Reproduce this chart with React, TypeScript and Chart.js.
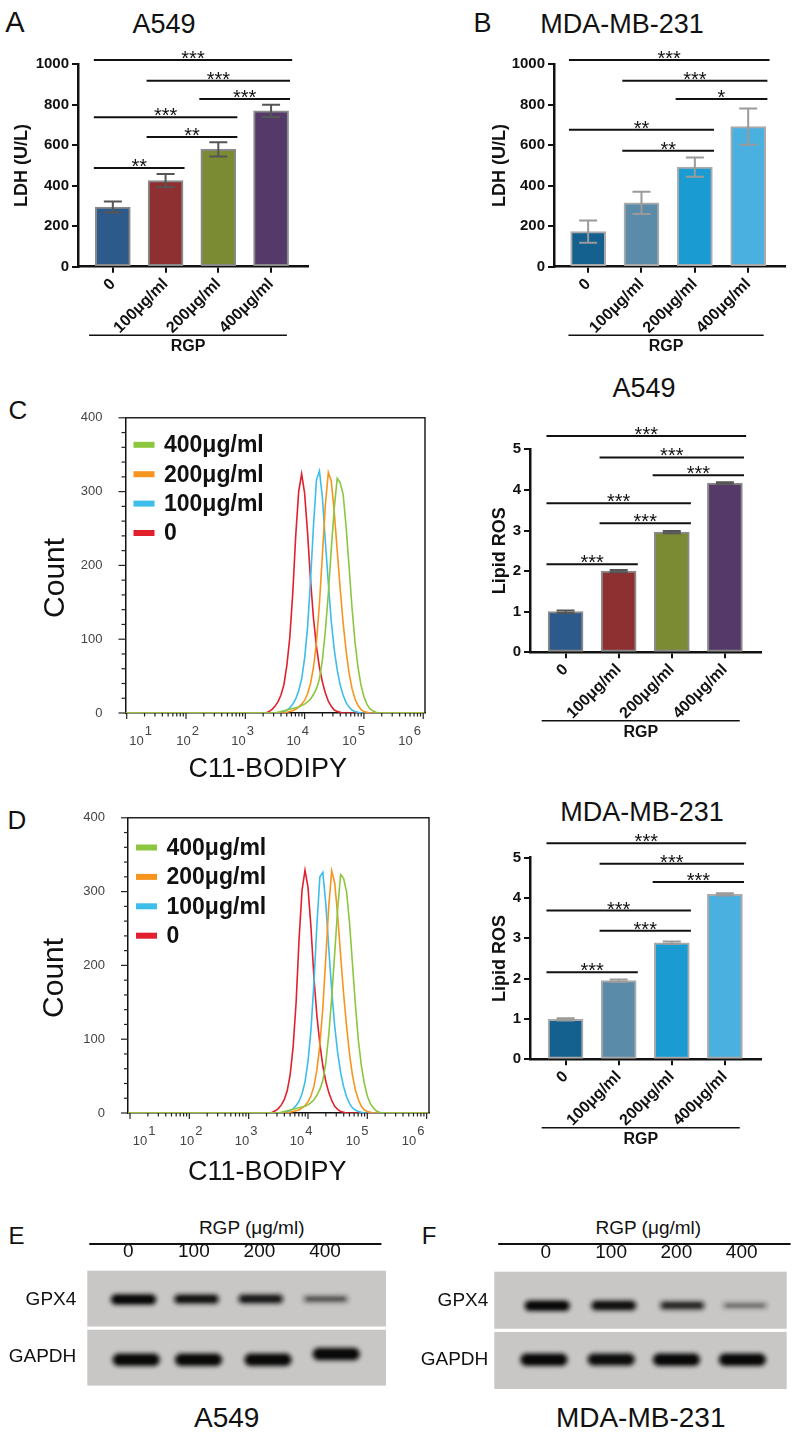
import React, { useEffect, useRef } from 'react';
import { Chart, registerables } from 'chart.js';

Chart.register(...registerables);

const FONT = "'Liberation Sans', Arial, Helvetica, sans-serif";
Chart.defaults.font.family = FONT;
Chart.defaults.color = '#111';

// ---------- categories / labels ----------
const DOSES = ['0', '100\u03BCg/ml', '200\u03BCg/ml', '400\u03BCg/ml'];
const HIST_LEGEND = ['400\u03BCg/ml', '200\u03BCg/ml', '100\u03BCg/ml', '0'];
const HIST_COLORS = ['#8cc63f', '#f7941d', '#3dbde9', '#e11f2d'];
const HIST_DECADES = [1, 2, 3, 4, 5, 6];
const HIST_LABEL_AT = [1.236, 2.029, 2.956, 3.884, 4.828, 5.772];
const LANES = ['0', '100', '200', '400'];
const BLOT_ROWS = ['GPX4', 'GAPDH'];

// ---------- LDH (U/L) ----------
const LDH_A549 = [295, 425, 580, 770];
const LDH_A549_SD = [27, 33, 35, 30];
const LDH_MDA = [173, 315, 492, 692];
const LDH_MDA_SD = [55, 55, 47, 90];

// ---------- Lipid ROS ----------
const ROS_A549 = [1.0, 2.0, 2.96, 4.17];
const ROS_A549_SD = [0.03, 0.03, 0.03, 0.02];
const ROS_MDA = [0.99, 1.95, 2.89, 4.09];
const ROS_MDA_SD = [0.03, 0.03, 0.03, 0.03];

// significance brackets: [from, to, level, label]
const SIG_LDH_A549 = [[0, 3, 1021, '***'], [1, 3, 919, '***'], [2, 3, 829, '***'], [0, 2, 738, '***'], [1, 2, 641, '**'], [0, 1, 488, '**']];
const SIG_LDH_MDA = [[0, 3, 1021, '***'], [1, 3, 919, '***'], [2, 3, 829, '*'], [0, 2, 677, '**'], [1, 2, 573, '**']];
const SIG_ROS_A549 = [[0, 3, 5.33, '***'], [1, 3, 4.8, '***'], [2, 3, 4.36, '***'], [0, 2, 3.67, '***'], [1, 2, 3.18, '***'], [0, 1, 2.17, '***']];
const SIG_ROS_MDA = [[0, 3, 5.36, '***'], [1, 3, 4.85, '***'], [2, 3, 4.4, '***'], [0, 2, 3.69, '***'], [1, 2, 3.19, '***'], [0, 1, 2.16, '***']];

const COLORS_A549 = ['#2c5a8b', '#8e2f31', '#7a8b33', '#553a69'];
const COLORS_MDA = ['#14608f', '#5a8ca9', '#1a9cd3', '#4ab0df'];

// ---------- flow histograms (log10 C11-BODIPY bins, counts) ----------
const HIST_BINS = [3.30, 3.35, 3.40, 3.45, 3.50, 3.55, 3.60, 3.65, 3.70, 3.75, 3.80, 3.85, 3.90, 3.95, 4.00, 4.05, 4.10, 4.15, 4.20, 4.25, 4.30, 4.35, 4.40, 4.45, 4.50, 4.55, 4.60, 4.65, 4.70, 4.75, 4.80, 4.85, 4.90, 4.95, 5.00, 5.05, 5.10, 5.15, 5.20, 5.25, 5.30];
const C_400 = [0, 0, 0, 0, 0, 1, 2, 3, 4, 5, 6, 7, 8, 10, 12, 15, 19, 25, 33, 46, 72, 112, 162, 222, 278, 318, 312, 296, 252, 198, 142, 96, 62, 38, 22, 12, 6, 3, 1, 0, 0];
const C_200 = [0, 0, 0, 0, 0, 0, 0, 0, 1, 2, 3, 5, 8, 12, 17, 26, 40, 62, 96, 148, 214, 282, 326, 314, 272, 220, 168, 122, 84, 54, 33, 19, 10, 5, 2, 1, 0, 0, 0, 0, 0];
const C_100 = [0, 0, 0, 0, 0, 0, 1, 2, 4, 7, 12, 19, 30, 46, 74, 116, 180, 254, 316, 328, 292, 232, 176, 124, 86, 58, 38, 24, 14, 8, 4, 2, 1, 0, 0, 0, 0, 0, 0, 0, 0];
const C_0 = [0, 0, 2, 5, 9, 15, 24, 38, 64, 102, 162, 240, 300, 324, 298, 244, 180, 128, 90, 62, 42, 27, 16, 9, 4, 2, 1, 0, 0, 0, 0, 0, 0, 0, 0, 0, 0, 0, 0, 0, 0];
const D_400 = [0, 0, 0, 0, 0, 1, 2, 3, 4, 5, 6, 7, 8, 9, 11, 14, 18, 24, 32, 44, 68, 106, 156, 216, 276, 323, 318, 300, 258, 202, 146, 98, 64, 40, 23, 13, 7, 3, 1, 0, 0];
const D_200 = [0, 0, 0, 0, 0, 0, 0, 0, 1, 2, 3, 4, 7, 10, 15, 23, 36, 58, 92, 142, 210, 280, 328, 312, 268, 214, 162, 118, 80, 51, 31, 18, 9, 4, 2, 1, 0, 0, 0, 0, 0];
const D_100 = [0, 0, 0, 0, 0, 0, 1, 2, 3, 6, 10, 16, 26, 42, 70, 112, 176, 254, 320, 326, 284, 224, 166, 118, 82, 55, 36, 22, 13, 7, 4, 2, 1, 0, 0, 0, 0, 0, 0, 0, 0];
const D_0 = [0, 0, 1, 3, 6, 11, 18, 30, 52, 90, 150, 236, 302, 329, 306, 252, 184, 132, 94, 64, 43, 28, 17, 9, 5, 2, 1, 0, 0, 0, 0, 0, 0, 0, 0, 0, 0, 0, 0, 0, 0];

// ---------- western blots (lane position, row position, relative intensity) ----------
const E_GPX4_X = [0.08, 1.04, 2.02, 3.01];
const E_GPX4_I = [1.0, 0.85, 0.8, 0.42];
const E_GAPDH_X = [0.12, 1.07, 2.13, 3.17];
const E_GAPDH_Y = [1.05, 1.05, 1.05, 0.95];
const E_GAPDH_I = [1.0, 1.0, 1.0, 1.0];
const F_GPX4_X = [0.02, 1.04, 2.09, 3.05];
const F_GPX4_Y = [0.08, 0.08, 0.08, 0.08];
const F_GPX4_I = [1.0, 0.9, 0.68, 0.3];
const F_GAPDH_X = [-0.03, 1.0, 2.0, 3.01];
const F_GAPDH_I = [1.0, 0.95, 1.0, 1.0];

// ======================================================
function ChartCanvas({ left, top, width, height, make }: any) {
  const ref = useRef<HTMLCanvasElement>(null);
  useEffect(() => {
    const chart = new Chart(ref.current as HTMLCanvasElement, make());
    return () => chart.destroy();
  }, []);
  return (
    <div style={{ position: 'absolute', left, top, width, height }}>
      <canvas ref={ref} width={width} height={height} style={{ width, height, display: 'block' }} />
    </div>
  );
}

function Label({ x, y, size, text, weight = 'normal' }: any) {
  return (
    <div style={{ position: 'absolute', left: x, top: y, transform: 'translate(-50%,-50%)', fontSize: size, fontWeight: weight, lineHeight: 1, whiteSpace: 'nowrap', color: '#111', fontFamily: FONT }}>
      {text}
    </div>
  );
}

function barChart(p: any) {
  const annot = {
    id: 'annot',
    afterDatasetsDraw(chart: any) {
      const { ctx, chartArea } = chart;
      const xs = chart.scales.x;
      const ys = chart.scales.y;
      const meta = chart.getDatasetMeta(0);
      ctx.save();
      ctx.lineWidth = 2;
      ctx.strokeStyle = p.errColor;
      meta.data.forEach((el: any, i: number) => {
        const t = ys.getPixelForValue(p.values[i] + p.sd[i]);
        const b = ys.getPixelForValue(p.values[i] - p.sd[i]);
        ctx.beginPath();
        ctx.moveTo(el.x, t); ctx.lineTo(el.x, b);
        ctx.moveTo(el.x - 9, t); ctx.lineTo(el.x + 9, t);
        ctx.moveTo(el.x - 9, b); ctx.lineTo(el.x + 9, b);
        ctx.stroke();
      });
      ctx.strokeStyle = '#111';
      ctx.fillStyle = '#111';
      ctx.lineWidth = 2;
      ctx.font = `20px ${FONT}`;
      ctx.textAlign = 'center';
      ctx.textBaseline = 'alphabetic';
      p.sig.forEach((s: any) => {
        const [a, b, lvl, lab] = s;
        const x0 = xs.getPixelForValue(a - 0.36);
        const x1 = xs.getPixelForValue(b + (a === 0 && b === 3 ? 0.4 : 0.36));
        const yy = ys.getPixelForValue(lvl);
        ctx.beginPath(); ctx.moveTo(x0, yy); ctx.lineTo(x1, yy); ctx.stroke();
        ctx.fillText(lab, (x0 + x1) / 2, yy + 5);
      });
      const rx0 = xs.getPixelForValue(p.rgp[0]);
      const rx1 = xs.getPixelForValue(p.rgp[1]);
      const ry = chartArea.bottom + 68.5;
      ctx.lineWidth = 1.5;
      ctx.beginPath(); ctx.moveTo(rx0, ry); ctx.lineTo(rx1, ry); ctx.stroke();
      ctx.font = `bold 16px ${FONT}`;
      ctx.textBaseline = 'middle';
      ctx.fillText('RGP', (rx0 + rx1) / 2, chartArea.bottom + 80);
      ctx.restore();
    },
  };
  return {
    type: 'bar',
    data: {
      datasets: [{
        data: p.values.map((v: number, i: number) => ({ x: i, y: v })),
        backgroundColor: p.colors,
        borderColor: p.border,
        borderWidth: 2,
        borderSkipped: false,
        barThickness: 35,
      }],
    },
    options: {
      responsive: false,
      animation: false,
      events: [],
      layout: { padding: { top: p.padTop, right: p.padRight, left: 0, bottom: 0 } },
      plugins: { legend: { display: false }, tooltip: { enabled: false } },
      scales: {
        x: {
          type: 'linear', min: p.xMin, max: p.xMax, offset: false,
          afterBuildTicks: (s: any) => { s.ticks = [0, 1, 2, 3].map((v) => ({ value: v })); },
          ticks: { callback: (v: any) => DOSES[v], minRotation: 45, maxRotation: 45, autoSkip: false, font: { size: 16, weight: 'bold' }, color: '#111', padding: 2 },
          grid: { display: true, drawOnChartArea: false, drawTicks: true, tickLength: 6, color: '#111', lineWidth: 2, offset: false },
          border: { display: true, color: '#111', width: 2.5 },
          afterFit: (s: any) => { s.height = p.xHeight; },
        },
        y: {
          min: 0, max: p.yMax,
          ticks: { stepSize: p.yStep, callback: (v: any) => String(v), font: { size: 15, weight: 'bold' }, color: '#111', padding: 3 },
          grid: { display: true, drawOnChartArea: false, drawTicks: true, tickLength: 6, color: '#111', lineWidth: 2 },
          border: { display: true, color: '#111', width: 2.5 },
          title: { display: true, text: p.yTitle, font: { size: 18, weight: 'bold' }, color: '#111', padding: { top: p.titlePad, bottom: 0 } },
          afterFit: (s: any) => { s.width = p.yWidth; },
        },
      },
    },
    plugins: [annot],
  };
}

function histChart(p: any) {
  const deco = {
    id: 'histdeco',
    afterDraw(chart: any) {
      const { ctx, chartArea: ca } = chart;
      const xs = chart.scales.x;
      const ys = chart.scales.y;
      const line = (x0: number, y0: number, x1: number, y1: number) => {
        ctx.beginPath(); ctx.moveTo(x0, y0); ctx.lineTo(x1, y1); ctx.stroke();
      };
      ctx.save();
      ctx.strokeStyle = '#222';
      ctx.lineWidth = 1.5;
      ctx.beginPath();
      ctx.moveTo(ca.left, ca.top); ctx.lineTo(ca.right, ca.top); ctx.lineTo(ca.right, ca.bottom);
      ctx.stroke();
      ctx.lineWidth = 1.2;
      for (let v = 0; v <= 400; v += 20) {
        const y = ys.getPixelForValue(v);
        line(ca.left - (v % 100 === 0 ? 7 : 4), y, ca.left, y);
      }
      HIST_DECADES.forEach((n) => {
        const x = xs.getPixelForValue(n);
        line(x, ca.bottom, x, ca.bottom + 6);
        if (n < 6) {
          for (let k = 2; k <= 9; k++) {
            const xm = xs.getPixelForValue(n + Math.log10(k));
            line(xm, ca.bottom, xm, ca.bottom + 3.5);
          }
        }
      });
      ctx.fillStyle = '#444';
      ctx.textBaseline = 'alphabetic';
      ctx.textAlign = 'left';
      ctx.font = `13px ${FONT}`;
      HIST_DECADES.forEach((n, i) => {
        const cx = xs.getPixelForValue(HIST_LABEL_AT[i]);
        const w1 = ctx.measureText('10').width;
        const w2 = ctx.measureText(String(n)).width;
        const x0 = cx - (w1 + w2 + 1) / 2;
        ctx.fillText('10', x0, ca.bottom + 32);
        ctx.fillText(String(n), x0 + w1 + 1, ca.bottom + 22);
      });
      // legend
      ctx.font = `bold 23px ${FONT}`;
      ctx.textBaseline = 'middle';
      chart.data.datasets.forEach((ds: any, i: number) => {
        const y = ca.top + p.legendTop + i * 29.4;
        ctx.fillStyle = ds.borderColor;
        ctx.fillRect(ca.left + 8, y - 3, 21, 6);
        ctx.fillStyle = '#111';
        ctx.fillText(ds.label, ca.left + 38.5, y + 1);
      });
      ctx.restore();
    },
  };
  const mk = (arr: number[]) => [{ x: p.xMin, y: 0 }, ...HIST_BINS.map((b, i) => ({ x: b, y: arr[i] })), { x: p.xMax, y: 0 }];
  return {
    type: 'line',
    data: {
      datasets: p.series.map((arr: number[], i: number) => ({
        label: HIST_LEGEND[i],
        data: mk(arr),
        borderColor: HIST_COLORS[i],
        backgroundColor: HIST_COLORS[i],
        borderWidth: 1.6,
        pointRadius: 0,
        tension: 0,
        fill: false,
      })),
    },
    options: {
      responsive: false,
      animation: false,
      events: [],
      layout: { padding: { top: p.padTop, right: p.padRight, left: 0, bottom: 0 } },
      plugins: { legend: { display: false }, tooltip: { enabled: false } },
      scales: {
        x: {
          type: 'linear', min: p.xMin, max: p.xMax,
          ticks: { display: false },
          grid: { display: false },
          border: { display: true, color: '#111', width: 1.5 },
          title: { display: true, text: 'C11-BODIPY' + p.xPadSpaces, font: { size: 27 }, color: '#111', padding: { top: 0, bottom: p.xTitlePad } },
          afterFit: (s: any) => { s.height = 82; },
        },
        y: {
          min: 0, max: 400,
          ticks: { stepSize: 100, font: { size: 13 }, color: '#444', padding: 15 },
          grid: { display: false },
          border: { display: true, color: '#111', width: 1.5 },
          title: { display: true, text: 'Count   ', font: { size: 30 }, color: '#111', padding: { top: p.yTitlePad, bottom: 0 } },
          afterFit: (s: any) => { s.width = p.yWidth; },
        },
      },
    },
    plugins: [deco],
  };
}

function bandImage(intensity: number, w: number, h: number) {
  const pad = 8;
  const c = document.createElement('canvas');
  c.width = Math.ceil(w + pad * 2);
  c.height = Math.ceil(h + pad * 2);
  const g = c.getContext('2d') as CanvasRenderingContext2D;
  g.filter = 'blur(2px)';
  g.fillStyle = `rgba(12,12,12,${0.9 * intensity})`;
  g.beginPath();
  (g as any).roundRect(pad, pad, w, h, h / 2);
  g.fill();
  g.filter = 'blur(1px)';
  g.fillStyle = `rgba(0,0,0,${0.7 * intensity})`;
  g.beginPath();
  (g as any).roundRect(pad + 4, pad + h * 0.22, w - 8, h * 0.56, h * 0.28);
  g.fill();
  return c;
}

function blotChart(p: any) {
  const bg = {
    id: 'blotbg',
    beforeDatasetsDraw(chart: any) {
      const { ctx, chartArea: ca } = chart;
      const ys = chart.scales.y;
      const xs = chart.scales.x;
      ctx.save();
      const mid = ys.getPixelForValue(0.5);
      ctx.fillStyle = '#c9c7c5';
      ctx.fillRect(ca.left, ca.top, ca.width, mid - 1.6 - ca.top);
      ctx.fillRect(ca.left, mid + 1.6, ca.width, ca.bottom - mid - 1.6);
      ctx.strokeStyle = '#111';
      ctx.lineWidth = 2;
      const ly = ca.top - p.lineOff;
      ctx.beginPath();
      ctx.moveTo(xs.getPixelForValue(p.line[0]), ly);
      ctx.lineTo(xs.getPixelForValue(p.line[1]), ly);
      ctx.stroke();
      ctx.restore();
    },
  };
  const rows = [
    { xs: p.gpxX, ys: p.gpxY, is: p.gpxI, w: 46, h: 11 },
    { xs: p.gapX, ys: p.gapY, is: p.gapI, w: 48, h: 13 },
  ];
  return {
    type: 'scatter',
    data: {
      datasets: rows.map((r) => ({
        data: r.xs.map((x: number, i: number) => ({ x, y: r.ys[i] })),
        pointStyle: r.is.map((v: number) => bandImage(v, r.w, r.h * (0.55 + 0.45 * v))),
        pointRadius: 10,
      })),
    },
    options: {
      responsive: false,
      animation: false,
      events: [],
      layout: { padding: { top: 0, right: p.padRight, left: 0, bottom: p.padBottom } },
      plugins: { legend: { display: false }, tooltip: { enabled: false } },
      scales: {
        x: {
          type: 'linear', position: 'top', min: p.xMin, max: p.xMax,
          afterBuildTicks: (s: any) => { s.ticks = [0, 1, 2, 3].map((v) => ({ value: v })); },
          ticks: { callback: (v: any) => LANES[v], font: { size: 19 }, color: '#111', padding: 0, maxRotation: 0, autoSkip: false },
          grid: { display: false },
          border: { display: false },
          afterFit: (s: any) => { s.height = p.xHeight; },
        },
        y: {
          type: 'linear', reverse: true, min: -0.5, max: 1.5,
          afterBuildTicks: (s: any) => { s.ticks = [0, 1].map((v) => ({ value: v })); },
          ticks: { callback: (v: any) => BLOT_ROWS[v], font: { size: 19 }, color: '#111', padding: p.labelPad },
          grid: { display: false },
          border: { display: false },
          afterFit: (s: any) => { s.width = p.yWidth; },
        },
      },
    },
    plugins: [bg],
  };
}

export default function App() {
  return (
    <div style={{ position: 'absolute', left: 0, top: 0, width: 800, height: 1438, background: '#fff', overflow: 'hidden', fontFamily: FONT }}>
      <Label x={15} y={22} size={29} text="A" />
      <Label x={164} y={24} size={27} text="A549" />
      <Label x={482.5} y={22.5} size={27} text="B" />
      <Label x={622} y={24} size={27} text="MDA-MB-231" />
      <Label x={18} y={410} size={26} text="C" />
      <Label x={644} y={387.5} size={27} text="A549" />
      <Label x={17} y={819.5} size={26} text="D" />
      <Label x={642} y={811.7} size={27} text="MDA-MB-231" />
      <Label x={16.5} y={1236} size={24} text="E" />
      <Label x={429} y={1236} size={24} text="F" />
      <Label x={251.7} y={1226.7} size={19} text={'RGP (\u03BCg/ml)'} />
      <Label x={648.3} y={1226.7} size={19} text={'RGP (\u03BCg/ml)'} />
      <Label x={226.7} y={1418} size={28} text="A549" />
      <Label x={640.7} y={1418} size={28} text="MDA-MB-231" />

      <ChartCanvas left={0} top={40} width={330} height={320} make={() => barChart({
        values: LDH_A549, sd: LDH_A549_SD, colors: COLORS_A549, border: '#8a8a8a', errColor: '#555',
        sig: SIG_LDH_A549, yMax: 1000, yStep: 200, yTitle: 'LDH (U/L)', xMin: -0.66, xMax: 3.7,
        yWidth: 78, xHeight: 93.3, padTop: 24.3, padRight: 22, titlePad: 10.9, rgp: [-0.45, 3.3],
      })} />
      <ChartCanvas left={480} top={40} width={320} height={320} make={() => barChart({
        values: LDH_MDA, sd: LDH_MDA_SD, colors: COLORS_MDA, border: '#aaaaaa', errColor: '#9a9a9a',
        sig: SIG_LDH_MDA, yMax: 1000, yStep: 200, yTitle: 'LDH (U/L)', xMin: -0.64, xMax: 3.69,
        yWidth: 74, xHeight: 93.3, padTop: 24.3, padRight: 15, titlePad: 9.2, rgp: [-0.37, 3.29],
      })} />

      <ChartCanvas left={0} top={395} width={440} height={400} make={() => histChart({
        series: [C_400, C_200, C_100, C_0], xMin: 0.98, xMax: 6.03, padTop: 20, padRight: 15,
        yWidth: 125.5, xTitlePad: 8.8, yTitlePad: 38, legendTop: 27, xPadSpaces: '  ',
      })} />
      <ChartCanvas left={470} top={410} width={330} height={340} make={() => barChart({
        values: ROS_A549, sd: ROS_A549_SD, colors: COLORS_A549, border: '#8a8a8a', errColor: '#555',
        sig: SIG_ROS_A549, yMax: 5, yStep: 1, yTitle: 'Lipid ROS', xMin: -0.67, xMax: 3.68,
        yWidth: 60, xHeight: 97.7, padTop: 39.3, padRight: 39, titlePad: 19.5, rgp: [-0.45, 3.28],
      })} />

      <ChartCanvas left={0} top={795} width={440} height={400} make={() => histChart({
        series: [D_400, D_200, D_100, D_0], xMin: 0.966, xMax: 6.04, padTop: 21, padRight: 11,
        yWidth: 128, xTitlePad: 5.8, yTitlePad: 37, legendTop: 29.7, xPadSpaces: '   ',
      })} />
      <ChartCanvas left={470} top={815} width={330} height={340} make={() => barChart({
        values: ROS_MDA, sd: ROS_MDA_SD, colors: COLORS_MDA, border: '#aaaaaa', errColor: '#9a9a9a',
        sig: SIG_ROS_MDA, yMax: 5, yStep: 1, yTitle: 'Lipid ROS', xMin: -0.67, xMax: 3.68,
        yWidth: 60, xHeight: 95.7, padTop: 42.7, padRight: 39, titlePad: 19.5, rgp: [-0.45, 3.28],
      })} />

      <ChartCanvas left={0} top={1205} width={400} height={195} make={() => blotChart({
        gpxX: E_GPX4_X, gpxY: [0, 0, 0, 0], gpxI: E_GPX4_I,
        gapX: E_GAPDH_X, gapY: E_GAPDH_Y, gapI: E_GAPDH_I,
        xMin: -0.625, xMax: 3.93, yWidth: 87.3, xHeight: 65.7, padRight: 14, padBottom: 6,
        labelPad: 3, lineOff: 26.7, line: [-0.595, 3.86],
      })} />
      <ChartCanvas left={400} top={1205} width={400} height={195} make={() => blotChart({
        gpxX: F_GPX4_X, gpxY: F_GPX4_Y, gpxI: F_GPX4_I,
        gapX: F_GAPDH_X, gapY: [1, 1, 1, 1], gapI: F_GAPDH_I,
        xMin: -0.79, xMax: 3.69, yWidth: 94.3, xHeight: 66.7, padRight: 13.3, padBottom: 5,
        labelPad: -2, lineOff: 27.7, line: [-0.73, 3.75],
      })} />
    </div>
  );
}
